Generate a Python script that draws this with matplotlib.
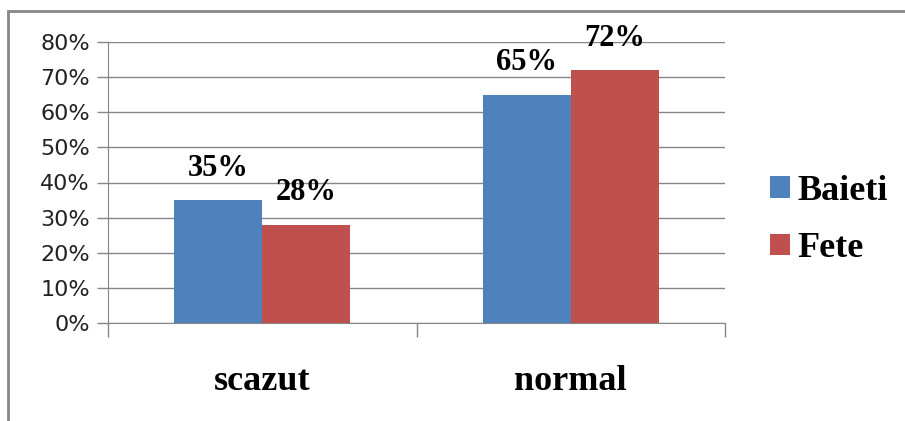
import numpy as np
import matplotlib.pyplot as plt
from matplotlib.patches import Rectangle, Patch
from matplotlib.ticker import PercentFormatter

categories = ['scazut', 'normal']
series_names = ['Baieti', 'Fete']
baieti = [35, 65]
fete = [28, 72]
colors = ['#4F81BD', '#C0504D']

W, H = 905, 421
fig = plt.figure(figsize=(W / 100, H / 100), dpi=100)

# outer chart border (right and bottom edges fall outside the image)
fig.patches.append(Rectangle((8 / W, -0.1), 2, 1 - 11 / H + 0.1, transform=fig.transFigure,
                             fill=False, edgecolor='#868686', linewidth=2))

ax = fig.add_axes([108 / W, 1 - 323 / H, (725 - 108) / W, (323 - 42) / H])

x = np.arange(len(categories))
bw = 0.285
for i, (name, vals) in enumerate(zip(series_names, [baieti, fete])):
    pos = x + (i - 0.5) * bw
    bars = ax.bar(pos, vals, bw, color=colors[i], label=name, zorder=2)
    for b, v in zip(bars, vals):
        ax.text(b.get_x() + b.get_width() / 2, v + 5, f'{v}%', ha='center', va='bottom',
                family='Liberation Serif', fontweight='bold', fontsize=22, zorder=3)

ax.set_xlim(-0.5, len(categories) - 0.5)
ax.set_ylim(0, 80)
ax.set_yticks(np.arange(0, 81, 10))
ax.yaxis.set_major_formatter(PercentFormatter(decimals=0))
ax.set_axisbelow(True)
ax.grid(axis='y', color='#868686', linewidth=1)

ax.set_xticks([-0.5, 0.5, 1.5])
ax.set_xticklabels([])
ax.set_xticks(x, minor=True)
ax.set_xticklabels(categories, minor=True, family='Liberation Serif', fontweight='bold', fontsize=26)
ax.tick_params(axis='x', which='major', length=10, color='#868686', width=1)
ax.tick_params(axis='x', which='minor', length=0, pad=30)
ax.tick_params(axis='y', length=8, color='#868686', width=1, labelsize=16, pad=5)
for lbl in ax.get_yticklabels():
    lbl.set_color('#222222')

for s in ['top', 'right']:
    ax.spines[s].set_visible(False)
for s in ['left', 'bottom']:
    ax.spines[s].set_color('#868686')

handles = [Patch(facecolor=c, edgecolor='none') for c in colors]
fig.legend(handles, series_names, loc='center left', bbox_to_anchor=(770 / W, 1 - 220 / H),
           frameon=False, prop={'family': 'Liberation Serif', 'weight': 'bold', 'size': 26},
           borderpad=0, borderaxespad=0,
           handlelength=0.55, handleheight=0.55, handletextpad=0.22, labelspacing=0.68)

fig.savefig('out.png', dpi=100)
